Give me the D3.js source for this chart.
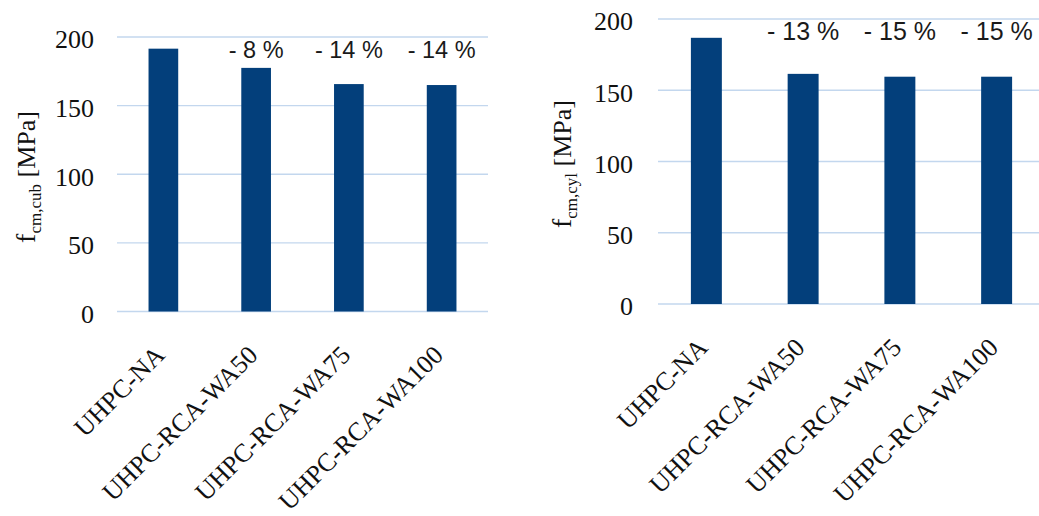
<!DOCTYPE html>
<html>
<head>
<meta charset="utf-8">
<script src="https://cdn.jsdelivr.net/npm/d3@7"></script>
<style>
  html, body { margin: 0; padding: 0; background: #ffffff; }
  svg { display: block; }
</style>
</head>
<body>
<svg id="chart" width="1039" height="516"></svg>
<script>
// Mixture names shared by both panels
const categories = ["UHPC-NA", "UHPC-RCA-WA50", "UHPC-RCA-WA75", "UHPC-RCA-WA100"];

// Mean cube compressive strength f_cm,cub [MPa]
const cubeStrength = [191.5, 177.5, 165.7, 165.0];
// Change relative to UHPC-NA, cube specimens
const cubeChange = ["", "- 8 %", "- 14 %", "- 14 %"];

// Mean cylinder compressive strength f_cm,cyl [MPa]
const cylinderStrength = [186.8, 161.5, 159.5, 159.5];
// Change relative to UHPC-NA, cylinder specimens
const cylinderChange = ["", "- 13 %", "- 15 %", "- 15 %"];

// Value axis ticks (both panels)
const yTicks = [0, 50, 100, 150, 200];

const BAR = "#033f7b";
const GRID = "#c3d7ee";
const SERIF = "'Liberation Serif', 'Times New Roman', serif";
const SANS = "'Liberation Sans', Arial, sans-serif";

const svg = d3.select("#chart");

function drawPanel(cfg) {
  const g = svg.append("g");

  const x = d3.scaleBand()
    .domain(categories)
    .range([cfg.left, cfg.right])
    .paddingInner(0.68)
    .paddingOuter(0.34);

  const y = d3.scaleLinear()
    .domain([0, 200])
    .range([cfg.bottom, cfg.top]);

  // horizontal gridlines, the zero line included
  g.append("g")
    .selectAll("line")
    .data(yTicks)
    .join("line")
    .attr("x1", cfg.left)
    .attr("x2", cfg.right)
    .attr("y1", d => y(d))
    .attr("y2", d => y(d))
    .attr("stroke", GRID)
    .attr("stroke-width", 1.4);

  // value axis labels
  const yAxis = d3.axisLeft(y).tickValues(yTicks).tickSize(0).tickPadding(cfg.tickGap);
  const ya = g.append("g")
    .attr("transform", `translate(${cfg.left},0)`)
    .call(yAxis);
  ya.select(".domain").remove();
  ya.selectAll("text")
    .attr("font-family", SERIF)
    .attr("font-size", cfg.tickFont)
    .attr("fill", "#111")
    .attr("dy", "0.42em");

  // bars
  g.append("g")
    .selectAll("rect")
    .data(cfg.values)
    .join("rect")
    .attr("x", (d, i) => x(categories[i]))
    .attr("width", x.bandwidth())
    .attr("y", d => y(d))
    .attr("height", d => y(0) - y(d))
    .attr("fill", BAR);

  // percentage change annotations above the bars
  g.append("g")
    .selectAll("text")
    .data(cfg.changes)
    .join("text")
    .attr("x", (d, i) => x(categories[i]) + x.bandwidth() / 2)
    .attr("y", y(200) + 20.5)
    .attr("text-anchor", "middle")
    .attr("font-family", SANS)
    .attr("font-size", cfg.pctFont)
    .attr("fill", "#1a1a1a")
    .text(d => d);

  // category labels, rotated 45 degrees
  g.append("g")
    .selectAll("text")
    .data(categories)
    .join("text")
    .attr("transform", d => {
      const cx = x(d) + x.bandwidth() / 2 + 3;
      const cy = y(0) + 45;
      return `translate(${cx},${cy}) rotate(-45)`;
    })
    .attr("text-anchor", "end")
    .attr("font-family", SERIF)
    .attr("font-size", 26)
    .attr("fill", "#111")
    .text(d => d);

  // value axis title with subscript
  const t = g.append("text")
    .attr("transform", `translate(${cfg.titleX},${cfg.titleY}) rotate(-90)`)
    .attr("text-anchor", "middle")
    .attr("font-family", SERIF)
    .attr("font-size", 26)
    .attr("fill", "#111");
  t.append("tspan").attr("font-size", 28).text("f");
  t.append("tspan").attr("font-size", 17).attr("dy", 6).text(cfg.sub);
  t.append("tspan").attr("dy", -6).text(" [MPa]");
}

drawPanel({
  left: 117, right: 488, top: 37, bottom: 311.5,
  values: cubeStrength, changes: cubeChange,
  sub: "cm,cub", titleX: 35, titleY: 177,
  tickGap: 23, tickFont: 26, pctFont: 23.5
});

drawPanel({
  left: 658, right: 1045, top: 19, bottom: 304,
  values: cylinderStrength, changes: cylinderChange,
  sub: "cm,cyl", titleX: 571, titleY: 164,
  tickGap: 25, tickFont: 26, pctFont: 25
});
</script>
</body>
</html>
